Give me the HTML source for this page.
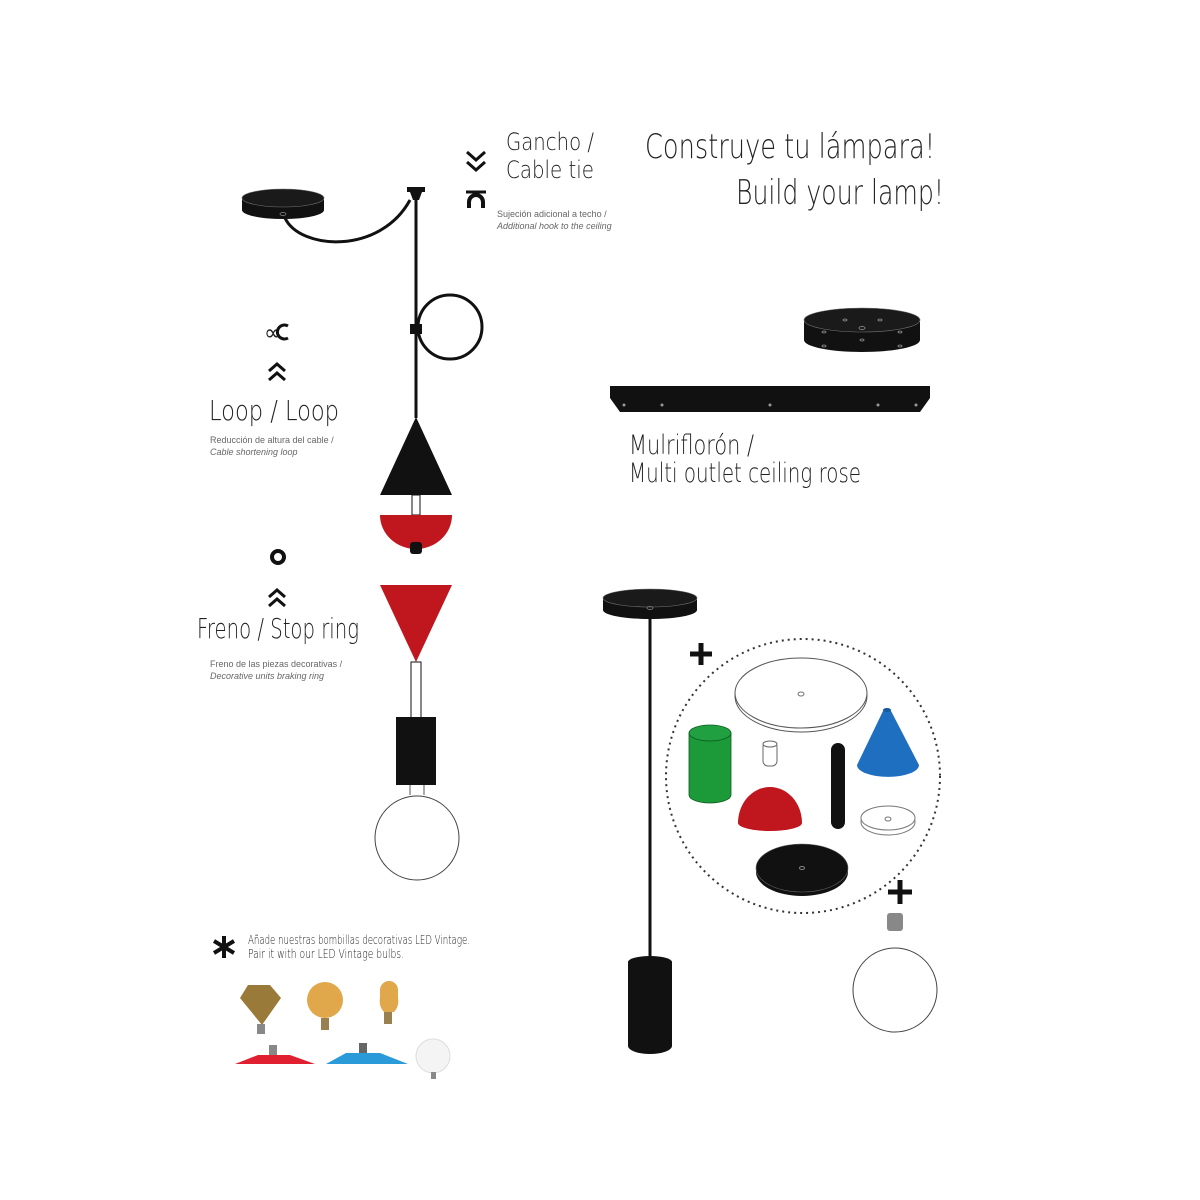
<!DOCTYPE html>
<html><head><meta charset="utf-8"><style>
html,body{margin:0;padding:0;background:#fff}
svg{display:block}
.h{font-family:"DejaVu Sans ExtraLight","DejaVu Sans","Liberation Sans",sans-serif;font-weight:200;fill:#222}
.s{font-family:"Liberation Sans",sans-serif;fill:#666;font-size:9px}
</style></head><body>
<svg width="1200" height="1200" viewBox="0 0 1200 1200" xmlns="http://www.w3.org/2000/svg">
<!-- Titles -->
<text class="h" x="645" y="158" font-size="34" textLength="290" lengthAdjust="spacingAndGlyphs">Construye tu lámpara!</text>
<text class="h" x="736" y="204" font-size="34" textLength="208" lengthAdjust="spacingAndGlyphs">Build your lamp!</text>
<text class="h" x="506" y="150" font-size="24" textLength="88" lengthAdjust="spacingAndGlyphs">Gancho /</text>
<text class="h" x="506" y="178" font-size="24" textLength="88" lengthAdjust="spacingAndGlyphs">Cable tie</text>
<text class="s" x="497" y="217">Sujeción adicional a techo /</text>
<text class="s" x="497" y="229" font-style="italic">Additional hook to the ceiling</text>
<path d="M467 152 l9 8 l9 -8 M467 162 l9 8 l9 -8" stroke="#111" stroke-width="3" fill="none"/>
<path d="M466 192 h20" stroke="#111" stroke-width="3"/>
<path d="M469 208 v-6 a7 7 0 0 1 14 0 v6" stroke="#111" stroke-width="4" fill="none"/>

<!-- left ceiling rose -->
<rect x="242" y="198" width="82" height="12" fill="#111"/>
<ellipse cx="283" cy="210" rx="41" ry="9" fill="#111"/>
<ellipse cx="283" cy="198" rx="41" ry="9" fill="#1a1a1a" stroke="#777" stroke-width="0.6"/>
<ellipse cx="283" cy="214" rx="3" ry="1.5" fill="none" stroke="#888" stroke-width="0.8"/>
<path d="M285 218 C300 250 380 255 410 200" stroke="#111" stroke-width="3" fill="none"/>
<rect x="407" y="187" width="18" height="5" fill="#111"/>
<path d="M410 192 h12 l-3 8 h-6 z" fill="#111"/>
<line x1="416" y1="195" x2="416" y2="418" stroke="#111" stroke-width="3"/>
<circle cx="450" cy="327" r="32" stroke="#111" stroke-width="3" fill="none"/>
<rect x="410" y="324" width="12" height="10" fill="#111"/>

<!-- pendant parts -->
<polygon points="416,417 380,495 452,495" fill="#111"/>
<rect x="412" y="495" width="8" height="20" fill="#fff" stroke="#111" stroke-width="1"/>
<path d="M380 515 H452 A36 34 0 0 1 380 515 Z" fill="#c0161e"/>
<rect x="410" y="542" width="12" height="12" fill="#111" rx="3"/>
<polygon points="380,585 452,585 416,662" fill="#c0161e"/>
<rect x="411" y="662" width="10" height="56" fill="#fff" stroke="#111" stroke-width="1"/>
<rect x="396" y="717" width="40" height="68" fill="#111"/>
<path d="M410 785 v10 M424 785 v10" stroke="#555" stroke-width="1"/>
<circle cx="417" cy="838" r="42" fill="#fff" stroke="#444" stroke-width="1"/>

<!-- Loop -->
<text class="h" x="264" y="340" font-size="22" font-weight="bold">∝</text>
<path d="M288 326 a7 7 0 1 0 0 12" stroke="#111" stroke-width="3" fill="none"/>
<path d="M269 371 l8 -7 l8 7 M269 380 l8 -7 l8 7" stroke="#111" stroke-width="3" fill="none"/>
<text class="h" x="209" y="420" font-size="28" textLength="130" lengthAdjust="spacingAndGlyphs">Loop / Loop</text>
<text class="s" x="210" y="443">Reducción de altura del cable /</text>
<text class="s" x="210" y="455" font-style="italic">Cable shortening loop</text>

<!-- Freno -->
<circle cx="278" cy="557" r="6" fill="none" stroke="#111" stroke-width="4"/>
<path d="M269 597 l8 -7 l8 7 M269 606 l8 -7 l8 7" stroke="#111" stroke-width="3" fill="none"/>
<text class="h" x="197" y="638" font-size="28" textLength="162" lengthAdjust="spacingAndGlyphs">Freno / Stop ring</text>
<text class="s" x="210" y="667">Freno de las piezas decorativas /</text>
<text class="s" x="210" y="679" font-style="italic">Decorative units braking ring</text>

<!-- multi outlet -->
<rect x="804" y="320" width="116" height="20" fill="#111"/>
<ellipse cx="862" cy="340" rx="58" ry="12" fill="#111"/>
<ellipse cx="862" cy="320" rx="58" ry="12" fill="#1a1a1a" stroke="#777" stroke-width="0.6"/>
<g fill="none" stroke="#999" stroke-width="0.8">
<ellipse cx="862" cy="328" rx="3" ry="1.5"/><ellipse cx="824" cy="332" rx="2" ry="1"/><ellipse cx="900" cy="332" rx="2" ry="1"/><ellipse cx="845" cy="320" rx="2" ry="1"/><ellipse cx="880" cy="320" rx="2" ry="1"/><ellipse cx="862" cy="340" rx="2" ry="1"/><ellipse cx="824" cy="346" rx="2" ry="1"/><ellipse cx="900" cy="346" rx="2" ry="1"/></g>
<rect x="610" y="386" width="320" height="12" fill="#111"/>
<polygon points="610,398 930,398 920,412 620,412" fill="#111"/>
<g fill="#999"><circle cx="624" cy="405" r="1.5"/><circle cx="662" cy="405" r="1.5"/><circle cx="770" cy="405" r="1.5"/><circle cx="878" cy="405" r="1.5"/><circle cx="916" cy="405" r="1.5"/></g>
<text class="h" x="629" y="454" font-size="27" textLength="125" lengthAdjust="spacingAndGlyphs">Mulriflorón /</text>
<text class="h" x="629" y="482" font-size="27" textLength="232" lengthAdjust="spacingAndGlyphs">Multi outlet ceiling rose</text>

<!-- right pendant -->
<rect x="603" y="598" width="94" height="12" fill="#111"/>
<ellipse cx="650" cy="610" rx="47" ry="9" fill="#111"/>
<ellipse cx="650" cy="598" rx="47" ry="9" fill="#1a1a1a" stroke="#777" stroke-width="0.6"/>
<ellipse cx="650" cy="608" rx="3" ry="1.5" fill="none" stroke="#888" stroke-width="0.8"/>
<line x1="650" y1="615" x2="650" y2="962" stroke="#111" stroke-width="3"/>
<path d="M628 962 a22 6 0 0 1 44 0 V1046 a22 8 0 0 1 -44 0 Z" fill="#111"/>

<!-- circle of parts -->
<path d="M690 654 h22 M701 643 v22" stroke="#111" stroke-width="5"/>
<circle cx="803" cy="776" r="137" fill="none" stroke="#333" stroke-width="2" stroke-dasharray="2 4"/>
<ellipse cx="801" cy="696" rx="66" ry="36" fill="#fff" stroke="#555" stroke-width="1"/>
<ellipse cx="801" cy="693" rx="66" ry="35" fill="#fff" stroke="#555" stroke-width="1"/>
<ellipse cx="801" cy="694" rx="3" ry="2" fill="none" stroke="#777"/>
<path d="M689 733 V795 a21 8 0 0 0 42 0 V733 Z" fill="#1c9a3a" stroke="#0d5a20" stroke-width="0.8"/>
<ellipse cx="710" cy="733" rx="21" ry="8" fill="#20a040" stroke="#0d5a20" stroke-width="0.8"/>
<rect x="763" y="742" width="14" height="24" rx="5" fill="#fff" stroke="#666"/>
<ellipse cx="770" cy="744" rx="7" ry="3" fill="#fff" stroke="#666"/>
<path d="M738 823 a32 36 0 0 1 64 0 a32 8 0 0 1 -64 0 Z" fill="#c0161e"/>
<rect x="831" y="743" width="14" height="86" rx="7" fill="#111"/>
<path d="M884 709 L857 765 a26 10 0 0 0 62 0 L890 709 Z" fill="#1f6fc0"/>
<ellipse cx="887" cy="710" rx="4" ry="2" fill="#155a9e"/>
<ellipse cx="888" cy="822" rx="27" ry="13" fill="#fff" stroke="#777"/>
<ellipse cx="888" cy="818" rx="27" ry="12" fill="#fff" stroke="#777"/>
<ellipse cx="888" cy="819" rx="3" ry="2" fill="none" stroke="#777"/>
<ellipse cx="802" cy="872" rx="46" ry="24" fill="#111"/>
<ellipse cx="802" cy="868" rx="46" ry="24" fill="#111" stroke="#666" stroke-width="0.6"/>
<ellipse cx="802" cy="868" rx="2.5" ry="1.5" fill="none" stroke="#888"/>
<path d="M888 892 h24 M900 880 v24" stroke="#111" stroke-width="5"/>
<rect x="887" y="913" width="16" height="18" rx="3" fill="#888"/>
<circle cx="895" cy="990" r="42" fill="#fff" stroke="#444" stroke-width="1"/>

<!-- bottom bulbs note -->
<path d="M224 936 v22 M214 941 l20 12 M234 941 l-20 12" stroke="#111" stroke-width="4"/>
<text class="h" x="248" y="944" font-size="12" textLength="222" lengthAdjust="spacingAndGlyphs">Añade nuestras bombillas decorativas LED Vintage.</text>
<text class="h" x="248" y="958" font-size="12" textLength="156" lengthAdjust="spacingAndGlyphs">Pair it with our LED Vintage bulbs.</text>
<polygon points="248,985 270,985 281,998 262,1025 240,998" fill="#9a7a38"/>
<rect x="257" y="1024" width="8" height="10" fill="#888"/>
<circle cx="325" cy="1000" r="18" fill="#e0a84a"/>
<rect x="321" y="1018" width="8" height="12" fill="#9a8050"/>
<path d="M380 990 a9 9 0 0 1 18 0 v8 a12 14 0 0 1 -4 14 h-10 a12 14 0 0 1 -4 -14 Z" fill="#e0a84a"/>
<rect x="384" y="1012" width="8" height="12" fill="#9a8050"/>
<rect x="269" y="1045" width="8" height="10" fill="#888"/>
<polygon points="258,1055 290,1055 315,1064 235,1064" fill="#e02030"/>
<rect x="359" y="1043" width="8" height="10" fill="#666"/>
<polygon points="346,1053 380,1053 408,1064 326,1064" fill="#2a9ad8"/>
<circle cx="433" cy="1056" r="17" fill="#f4f4f4" stroke="#ddd"/>
<rect x="431" y="1072" width="5" height="7" fill="#888"/>
</svg>
</body></html>
